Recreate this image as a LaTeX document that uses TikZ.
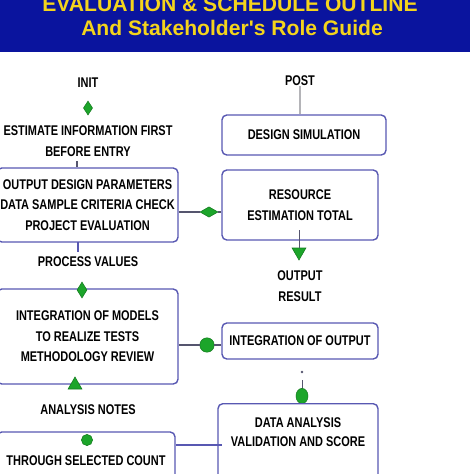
\documentclass[tikz,border=0pt]{standalone}
\usepackage{fontspec}
\newfontfamily\boxfont{Liberation Sans}[FakeStretch=0.78]
\newfontfamily\headfont{Liberation Sans}
\usetikzlibrary{positioning}
\usetikzlibrary{shapes.geometric}
\definecolor{bannerBlue}{HTML}{0A149E}
\definecolor{titleYellow}{HTML}{F4D41C}
\definecolor{boxEdge}{HTML}{5858B2}
\definecolor{markGreen}{HTML}{1CA52A}
\definecolor{linkGray}{HTML}{55556E}
\definecolor{stemGray}{HTML}{B4B4B8}
\tikzset{
   stepBox/.style={draw=boxEdge, line width=0.35mm, rounded corners=1.2mm, align=center, inner sep=0mm, font=\boxfont\bfseries\fontsize{10}{14.5}\selectfont},
   plainText/.style={align=center, inner sep=0mm, font=\boxfont\bfseries\fontsize{10}{15}\selectfont},
   titleText/.style={text=titleYellow, inner sep=0mm, font=\headfont\bfseries\fontsize{15}{16}\selectfont},
   linkLine/.style={draw=linkGray, line width=0.3mm},
   greenDiamond/.style={shape=diamond, fill=markGreen, draw=markGreen!75!black, inner sep=0mm},
   greenDot/.style={shape=circle, fill=markGreen, draw=markGreen!75!black, inner sep=0mm},
   greenTip/.style={shape=regular polygon, regular polygon sides=3, fill=markGreen, draw=markGreen!75!black, inner sep=0mm, minimum size=4mm},
}

\begin{document}
\begin{tikzpicture}[x=0.25mm, y=-0.25mm]
  \useasboundingbox (0,0) rectangle (474,474);
  \clip (0,0) rectangle (474,474);
  %
  % banner
  \fill[bannerBlue] (0,0) rectangle (470,52);
  \node[titleText] (titleTop) at (230,4) {EVALUATION \& SCHEDULE OUTLINE};
  \node[titleText] (titleSub) at (232,28) {And Stakeholder's Role Guide};
  %
  % left column
  \node[plainText] (initLabel) at (88,83) {INIT};
  \node[greenDiamond, minimum width=2.3mm, minimum height=3.5mm] (initMark) at (88,108) {};
  \node[plainText] (estimateText) at (88,141.5) {ESTIMATE  INFORMATION FIRST\\BEFORE ENTRY};
  \node[stepBox, minimum width=45.25mm, minimum height=18.5mm] (designBox) at (87.5,205)
     {OUTPUT DESIGN PARAMETERS\\DATA SAMPLE  CRITERIA CHECK\\PROJECT EVALUATION};
  \coordinate (entryTop) at (77,161);
  \draw[linkLine] (entryTop) -- (entryTop |- designBox.north);
  %
  \node[plainText] (processLabel) at (88,262) {PROCESS VALUES};
  \coordinate (designFoot) at (78,242);
  \draw[linkLine, draw=boxEdge] (designFoot) -- (78,252);
  %
  \node[stepBox, minimum width=45.25mm, minimum height=23.75mm] (simBox) at (87.5,336.5)
     {INTEGRATION OF MODELS\\TO REALIZE  TESTS\\METHODOLOGY REVIEW};
  \node[greenDiamond, minimum width=2.5mm, minimum height=4mm] (simTopMark) at (82,290) {};
  \node[greenTip, shape border rotate=0] (simFootMark) at (75,385) {};
  %
  \node[plainText] (analysisLabel) at (88,410) {ANALYSIS NOTES};
  \node[stepBox, minimum width=44.5mm, minimum height=14.5mm] (selectBox) at (86,461)
     {THROUGH SELECTED COUNT};
  \node[greenDot, minimum size=2.8mm] (selectMark) at (87,440) {};
  %
  % right column
  \node[plainText] (postLabel) at (300,81) {POST};
  \node[stepBox, minimum width=41mm, minimum height=10mm] (simulationBox) at (304,135)
     {DESIGN SIMULATION};
  \draw[draw=stemGray, line width=0.7mm] (postLabel.south) -- (postLabel.south |- simulationBox.north);
  %
  \node[stepBox, minimum width=39mm, minimum height=17.5mm] (resourceBox) at (300,205)
     {RESOURCE\\ESTIMATION TOTAL};
  \node[greenTip, shape border rotate=180] (outputMark) at (299,252) {};
  \draw[linkLine, thin] (outputMark.north) -- ++(0,-18);
  \node[plainText] (outputLabel) at (300,286) {OUTPUT\\RESULT};
  %
  \node[stepBox, minimum width=39mm, minimum height=9mm] (integrationBox) at (300,341)
     {INTEGRATION OF OUTPUT};
  \coordinate (dropTop) at (302,372);
  \fill[linkGray] (dropTop) circle (0.35mm);
  \node[shape=ellipse, fill=markGreen, draw=markGreen!75!black, inner sep=0mm, minimum width=3mm, minimum height=3.8mm] (dropMark) at (302,396) {};
  \draw[linkLine, thin] (302,380) -- (dropMark.north);
  %
  \node[stepBox, minimum width=40mm, minimum height=25mm, anchor=north] (dataBox) at (298,403) {};
  \node[plainText, font=\boxfont\bfseries\fontsize{10}{14}\selectfont] (dataText) at (298,432)
     {DATA ANALYSIS\\VALIDATION AND SCORE};
  %
  % cross links
  \node[greenDiamond, minimum width=4.5mm, minimum height=2.6mm] (linkMark) at (209,212) {};
  \draw[linkLine] (designBox.east |- linkMark) -- (linkMark) -- (linkMark -| resourceBox.west);
  \node[greenDot, minimum width=3.6mm, minimum height=3mm] (simLinkMark) at (207,345) {};
  \draw[linkLine] (simBox.east |- simLinkMark) -- (simLinkMark) -- (simLinkMark -| integrationBox.west);
  \coordinate (countLink) at (222,445);
  \draw[linkLine, draw=boxEdge] (selectBox.east |- countLink) -- (countLink);
\end{tikzpicture}
\end{document}
